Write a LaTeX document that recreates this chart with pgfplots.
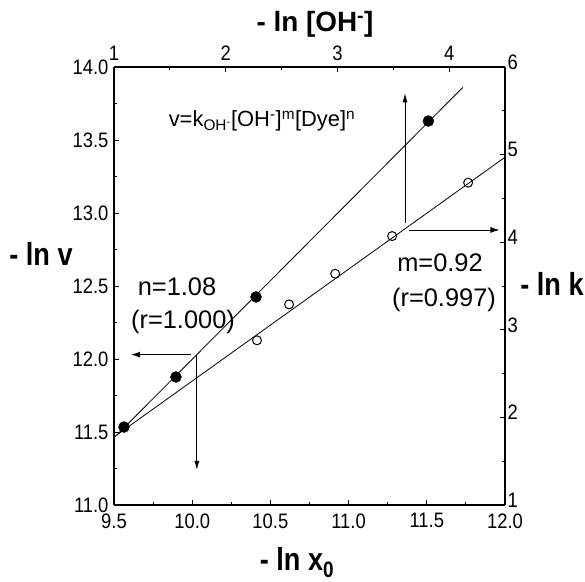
\documentclass[border=0pt]{standalone}
\usepackage{fontspec}
\setmainfont{Liberation Sans}
\newfontfamily\nar[FakeStretch=0.88]{Liberation Sans}
\newfontfamily\narb[FakeStretch=0.85]{Liberation Sans Bold}
\newfontfamily\narbt{Liberation Sans Bold}
\newcommand\tfont{\fontsize{21}{21}\selectfont\nar}
\usepackage{pgfplots}
\pgfplotsset{compat=1.18}
\usetikzlibrary{arrows.meta}
\pgfplotsset{
  common/.style={
    scale only axis, width=391bp, height=438bp,
    tick align=inside, major tick length=5bp, minor tick length=3bp,
    minor x tick num=1, minor y tick num=1,
    axis line style={line width=1.2bp},
    every tick/.style={black, line width=0.9bp},
    /pgf/number format/assume math mode=true,
    clip=false,
  }
}
\begin{document}
\begin{tikzpicture}
\begin{axis}[common, name=ax,
  xmin=9.5, xmax=12, ymin=11, ymax=14,
  axis x line*=bottom, axis y line*=left,
  xtick={9.5,10,10.5,11,11.5,12},
  ytick={11,11.5,12,12.5,13,13.5,14},
  xticklabel={\tfont\pgfmathprintnumber[fixed,fixed zerofill,precision=1,assume math mode=true]{\tick}},
  yticklabel={\tfont\pgfmathprintnumber[fixed,fixed zerofill,precision=1,assume math mode=true]{\tick}},
  xticklabel style={yshift=-5bp},
  yticklabel style={xshift=-2bp},
]
% fitted line (filled points)
\addplot[black, line width=0.8bp] coordinates {(9.5,11.46) (11.73,13.86)};
% filled points: -ln v vs -ln x0
\addplot[only marks, mark=*, mark size=5.5, black] coordinates {
  (9.564,11.534) (9.896,11.877) (10.408,12.425) (11.51,13.63)};
% arrows
\draw[black, line width=0.8bp, -{Latex[length=9bp,width=6bp]}] (axis cs:9.99,12.03) -- (axis cs:9.61,12.03);
\draw[black, line width=0.8bp, -{Latex[length=9bp,width=5bp]}] (axis cs:10.03,12.03) -- (axis cs:10.03,11.24);
\end{axis}
\begin{axis}[common,
  xmin=1, xmax=4.5, ymin=1, ymax=6,
  axis x line*=top, axis y line*=right,
  xtick={1,2,3,4}, ytick={1,2,3,4,5,6},
  xticklabel={\tfont\pgfmathprintnumber[assume math mode=true]{\tick}},
  yticklabel={\tfont\pgfmathprintnumber[assume math mode=true]{\tick}},
  xticklabel style={yshift=3bp},
  yticklabel style={yshift=5bp, xshift=-1bp},
]
\addplot[black, line width=0.8bp] coordinates {(1,1.776) (4.5,4.97)};
\addplot[only marks, mark=o, mark size=4.5, black, line width=1bp, fill=white, mark options={fill=white}] coordinates {
  (2.28,2.88) (2.567,3.29) (2.98,3.64) (3.49,4.07) (4.17,4.68)};
\draw[black, line width=0.8bp, -{Latex[length=9bp,width=5bp]}] (axis cs:3.605,4.22) -- (axis cs:3.605,5.70);
\draw[black, line width=0.8bp, -{Latex[length=9bp,width=6bp]}] (axis cs:3.64,4.14) -- (axis cs:4.45,4.14);
\end{axis}
% annotations (positions relative to axis south west, in px of reference)
\node[font=\fontsize{22}{22}\selectfont] at ([shift={(148bp,384bp)}]ax.south west)
  {v=k\textsubscript{OH\textsuperscript{-}}[OH\textsuperscript{-}]\textsuperscript{m}[Dye]\textsuperscript{n}};
\node[font=\fontsize{25.5}{25.5}\selectfont] at ([shift={(63bp,218bp)}]ax.south west) {n=1.08};
\node[font=\fontsize{25.5}{25.5}\selectfont] at ([shift={(69bp,183bp)}]ax.south west) {(r=1.000)};
\node[font=\fontsize{25.5}{25.5}\selectfont] at ([shift={(326bp,242bp)}]ax.south west) {m=0.92};
\node[font=\fontsize{25.5}{25.5}\selectfont] at ([shift={(330bp,205bp)}]ax.south west) {(r=0.997)};
% axis labels
\node[font=\fontsize{32}{32}\selectfont\narb] at ([shift={(183bp,-58bp)}]ax.south west) {- ln x\textsubscript{0}};
\node[font=\fontsize{32}{32}\selectfont\narb] at ([shift={(-73bp,251bp)}]ax.south west) {- ln v};
\node[font=\fontsize{32}{32}\selectfont\narb] at ([shift={(438bp,221bp)}]ax.south west) {- ln k};
\node[font=\fontsize{28}{28}\selectfont\narbt] at ([shift={(201bp,481bp)}]ax.south west) {- ln [OH\textsuperscript{-}]};
\pgfresetboundingbox
\path ([shift={(-114bp,-77bp)}]ax.south west) rectangle ([shift={(471bp,505bp)}]ax.south west);
\end{tikzpicture}
\end{document}
